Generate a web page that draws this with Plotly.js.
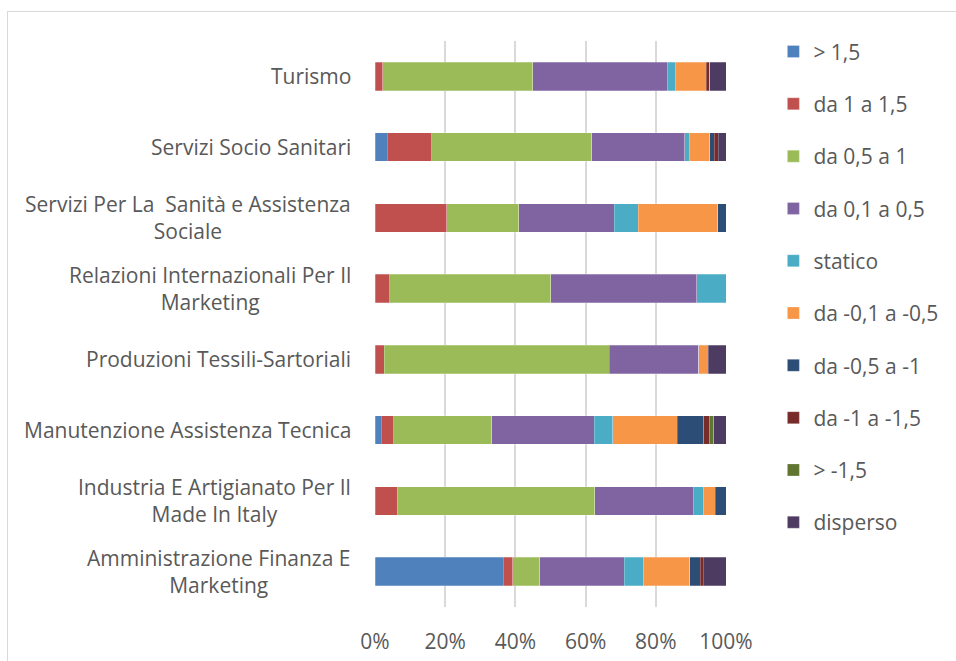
<!DOCTYPE html>
<html>
<head>
<meta charset="utf-8">
<script src="https://cdn.plot.ly/plotly-3.0.1.min.js"></script>
<style>
  html, body { margin: 0; padding: 0; background: #ffffff; }
  #wrap { position: relative; width: 956px; height: 661px; overflow: hidden; }
  #chart { width: 956px; height: 661px; }
  #frame { position: absolute; left: 7px; top: 11px; width: 1000px; height: 700px;
           border: 1.5px solid #d9d9d9; pointer-events: none; box-sizing: border-box; }
</style>
</head>
<body>
<div id="wrap"><div id="chart"></div><div id="frame"></div></div>
<script>
// Categories, top to bottom
const categories = [
  "Turismo",
  "Servizi Socio Sanitari",
  "Servizi Per La  Sanità e Assistenza<br>Sociale",
  "Relazioni Internazionali Per Il<br>Marketing",
  "Produzioni Tessili-Sartoriali",
  "Manutenzione Assistenza Tecnica",
  "Industria E Artigianato Per Il<br>Made In Italy",
  "Amministrazione Finanza E<br>Marketing"
];

const seriesNames = ["> 1,5", "da 1 a 1,5", "da 0,5 a 1", "da 0,1 a 0,5", "statico",
  "da -0,1 a -0,5", "da -0,5 a -1", "da -1 a -1,5", "> -1,5", "disperso"];

// Percent values per series, in category order above
const gt15       = [0,    3.5,  0,    0,    0,    1.8,  0,    36.6];
const da1a15     = [2.2,  12.7, 20.5, 4.2,  2.6,  3.6,  6.3,  2.7];
const da05a1     = [42.8, 45.5, 20.5, 45.8, 64.1, 27.8, 56.3, 7.6];
const da01a05    = [38.2, 26.6, 27.2, 41.7, 25.6, 29.2, 28.0, 24.1];
const statico    = [2.3,  1.2,  6.8,  8.3,  0,    5.4,  3.1,  5.6];
const dam01am05  = [8.9,  5.8,  22.7, 0,    2.6,  18.3, 3.3,  13.1];
const dam05am1   = [0,    1.3,  2.3,  0,    0,    7.6,  3.0,  2.9];
const dam1am15   = [1.0,  1.2,  0,    0,    0,    1.6,  0,    0.9];
const ltm15      = [0,    0,    0,    0,    0,    1.2,  0,    0];
const disperso   = [4.6,  2.2,  0,    0,    5.1,  3.5,  0,    6.5];

const seriesValues = [gt15, da1a15, da05a1, da01a05, statico, dam01am05, dam05am1, dam1am15, ltm15, disperso];
const colors = ["#4F81BD", "#C0504D", "#9BBB59", "#8064A2", "#4BACC6",
  "#F79646", "#2C4D75", "#772C2A", "#5F7530", "#4D3B62"];

const xTickVals = [0, 20, 40, 60, 80, 100];
const xTickText = ["0%", "20%", "40%", "60%", "80%", "100%"];

const FONT = "Open Sans, sans-serif";
const FS = 21;
const GREY = "#595959";

const traces = seriesNames.map((name, i) => ({
  type: "bar",
  orientation: "h",
  name: name,
  legendgroup: "g" + i,
  x: seriesValues[i],
  y: categories,
  marker: { color: colors[i], line: { color: "rgba(255,255,255,0.5)", width: 0.5 } },
  hoverinfo: "x+name"
}));

const annotations = categories.map(c => ({
  xref: "paper", yref: "y", x: 0, y: c,
  xanchor: "right", yanchor: "middle", xshift: -22,
  text: c, showarrow: false, align: "center",
  font: { family: FONT, size: FS, color: GREY }
}));

const layout = {
  width: 956, height: 661,
  margin: { l: 375, r: 230, t: 41, b: 54 },
  paper_bgcolor: "#ffffff", plot_bgcolor: "#ffffff",
  barmode: "stack",
  bargap: 0.6,
  showlegend: true,
  font: { family: FONT, size: FS, color: GREY },
  xaxis: {
    range: [0, 100],
    tickvals: xTickVals, ticktext: xTickText,
    showgrid: true, gridcolor: "#d9d9d9", gridwidth: 2,
    zeroline: false, showline: false, ticks: "",
    ticklabelstandoff: 20,
    tickfont: { family: FONT, size: FS, color: GREY },
    fixedrange: true
  },
  yaxis: {
    type: "category",
    categoryorder: "array", categoryarray: categories,
    autorange: "reversed",
    showticklabels: false, showgrid: false, zeroline: false, showline: false, ticks: "",
    fixedrange: true
  },
  legend: {
    x: 1.135, xanchor: "left", y: 1.017, yanchor: "top",
    traceorder: "grouped", tracegroupgap: 22,
    maxheight: 640,
    font: { family: FONT, size: FS, color: GREY },
    bgcolor: "rgba(0,0,0,0)"
  },
  annotations: annotations
};

Plotly.newPlot("chart", traces, layout, { displayModeBar: false, staticPlot: true });
</script>
</body>
</html>
